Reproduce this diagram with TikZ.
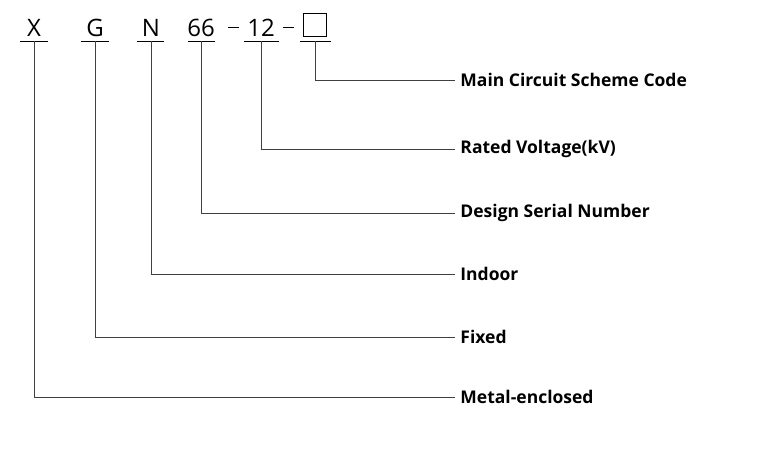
\documentclass[tikz,border=0pt]{standalone}
\usepackage{fontspec}
\setmainfont{Open Sans}
\begin{document}
\begin{tikzpicture}[x=1pt,y=-1pt,line width=0.9pt,
  lbl/.style={anchor=west,font=\fontsize{17.5}{20}\selectfont\bfseries,inner sep=0pt},
  code/.style={anchor=base,font=\fontsize{24}{26}\selectfont,inner sep=0pt},
  ln/.style={draw=black!75}]
\useasboundingbox (0,0) rectangle (763,451);
\node[code] (tX) at (34,36) {X};
\node[code] (tG) at (95,36) {G};
\node[code] (tN) at (151,36) {N};
\node[code] (t66) at (201,36) {66};
\node[code] (t12) at (261,36) {12};
\node[draw,line width=0.8pt,minimum width=23pt,minimum height=23pt,inner sep=0pt] (box) at (315,25) {};
\draw (228,27) -- (239,27);
\draw (283,27) -- (294,27);
% underlines
\coordinate (uX) at (34,41); \draw (20,41) -- (48,41);
\coordinate (uG) at (95,41); \draw (81,41) -- (109,41);
\coordinate (uN) at (151,41); \draw (137,41) -- (164,41);
\coordinate (u66) at (201,41); \draw (188,41) -- (215,41);
\coordinate (u12) at (261,41); \draw (244,41) -- (279,41);
\coordinate (uB) at (315,41); \draw (300,41) -- (331,41);
\node[lbl] (l1) at (460,80) {Main Circuit Scheme Code};
\node[lbl] (l2) at (460,149) {Rated Voltage(kV)};
\node[lbl] (l3) at (460,213) {Design Serial Number};
\node[lbl] (l4) at (460,274) {Indoor};
\node[lbl] (l5) at (460,337) {Fixed};
\node[lbl] (l6) at (460,397) {Metal-enclosed};
\draw[ln] (uB) |- ([xshift=-5pt]l1.west);
\draw[ln] (u12) |- ([xshift=-5pt]l2.west);
\draw[ln] (u66) |- ([xshift=-5pt]l3.west);
\draw[ln] (uN) |- ([xshift=-5pt]l4.west);
\draw[ln] (uG) |- ([xshift=-5pt]l5.west);
\draw[ln] (uX) |- ([xshift=-5pt]l6.west);
\end{tikzpicture}
\end{document}
